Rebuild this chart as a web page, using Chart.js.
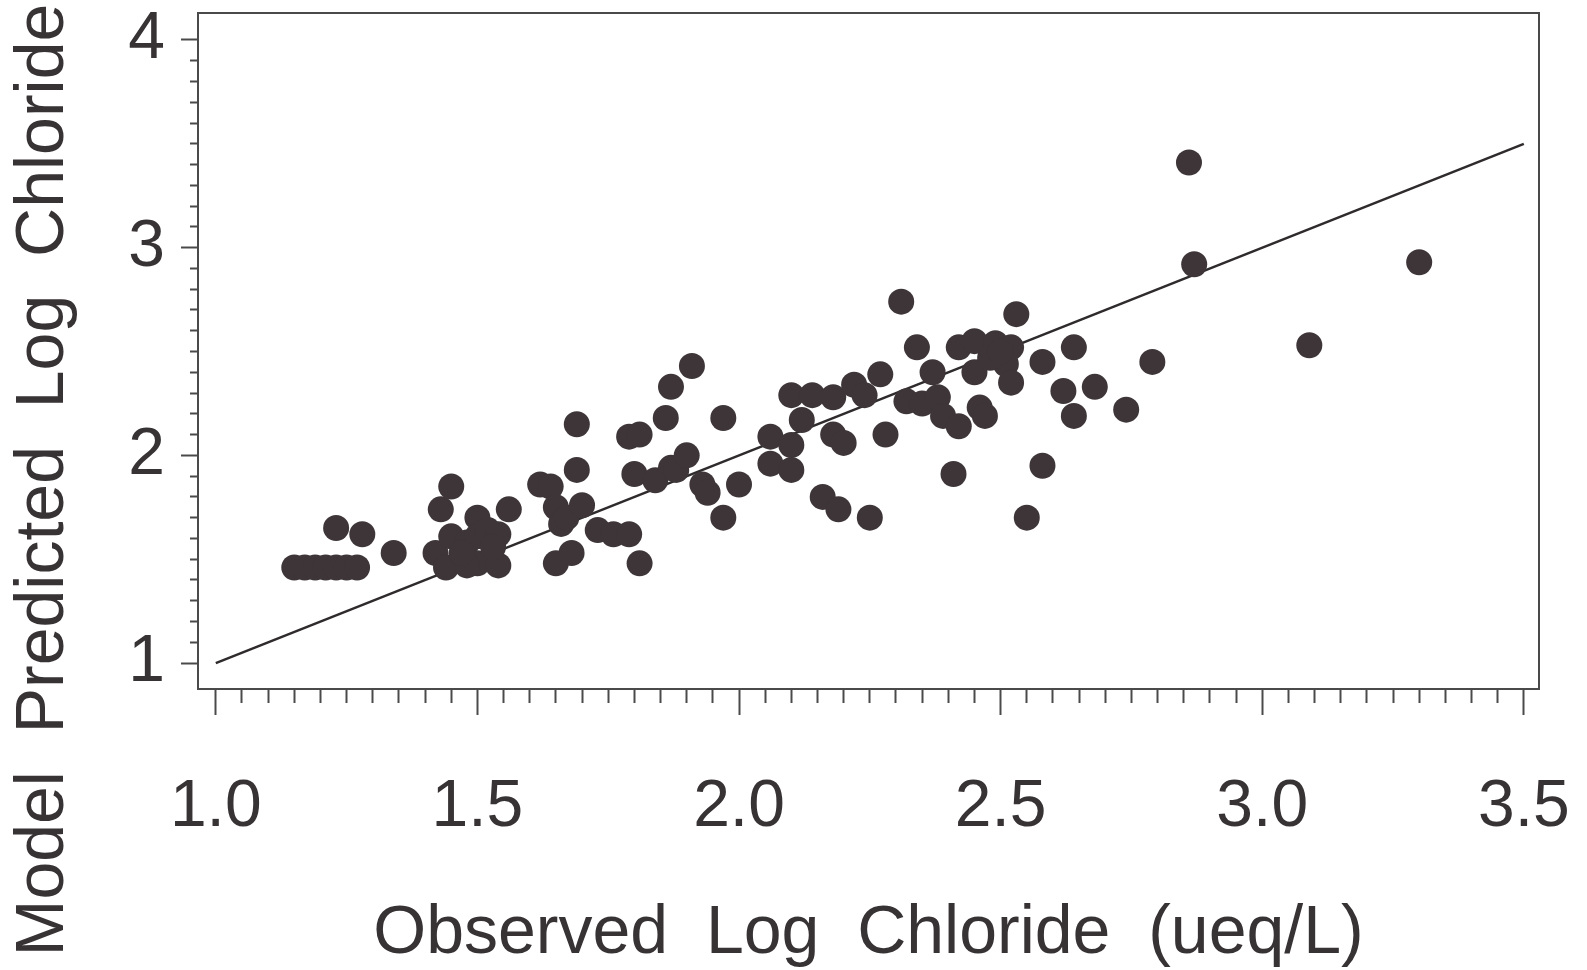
<!DOCTYPE html>
<html>
<head>
<meta charset="utf-8">
<script src="https://cdn.jsdelivr.net/npm/chart.js@4.4.1/dist/chart.umd.min.js"></script>
<style>
html, body { margin: 0; padding: 0; background: #fff; }
</style>
</head>
<body>
<canvas id="chlorideChart" width="1587" height="970"></canvas>
<script>
// observed vs model predicted log chloride
const observed = [
  1.15, 1.17, 1.19, 1.21, 1.23, 1.25, 1.27, 1.23, 1.28, 1.34,
  1.42, 1.43, 1.45, 1.44, 1.45, 1.48, 1.50, 1.50, 1.52, 1.54,
  1.50, 1.54, 1.56, 1.48, 1.47, 1.53, 1.62, 1.64, 1.65, 1.66,
  1.67, 1.70, 1.69, 1.69, 1.65, 1.68, 1.73, 1.76, 1.79, 1.81,
  1.79, 1.81, 1.80, 1.84, 1.86, 1.87, 1.91, 1.87, 1.88, 1.90,
  1.93, 1.94, 1.97, 2.00, 1.97, 2.06, 2.10, 2.06, 2.10, 2.12,
  2.10, 2.14, 2.18, 2.22, 2.24, 2.27, 2.18, 2.20, 2.28, 2.16,
  2.19, 2.25, 2.31, 2.34, 2.37, 2.32, 2.35, 2.38, 2.39, 2.42,
  2.46, 2.47, 2.41, 2.42, 2.45, 2.45, 2.49, 2.52, 2.51, 2.52,
  2.53, 2.48, 2.50, 2.58, 2.64, 2.62, 2.68, 2.64, 2.74, 2.79,
  2.58, 2.55, 2.86, 2.87, 3.09, 3.30
];
const predicted = [
  1.46, 1.46, 1.46, 1.46, 1.46, 1.46, 1.46, 1.65, 1.62, 1.53,
  1.53, 1.74, 1.85, 1.46, 1.61, 1.58, 1.70, 1.61, 1.64, 1.62,
  1.48, 1.47, 1.74, 1.47, 1.53, 1.56, 1.86, 1.85, 1.75, 1.67,
  1.70, 1.76, 1.93, 2.15, 1.48, 1.53, 1.64, 1.62, 1.62, 1.48,
  2.09, 2.10, 1.91, 1.88, 2.18, 2.33, 2.43, 1.94, 1.93, 2.00,
  1.86, 1.82, 1.70, 1.86, 2.18, 2.09, 2.05, 1.96, 1.93, 2.17,
  2.29, 2.29, 2.28, 2.34, 2.29, 2.39, 2.10, 2.06, 2.10, 1.80,
  1.74, 1.70, 2.74, 2.52, 2.40, 2.26, 2.25, 2.28, 2.19, 2.14,
  2.23, 2.19, 1.91, 2.52, 2.55, 2.40, 2.54, 2.52, 2.44, 2.35,
  2.68, 2.47, 2.50, 2.45, 2.52, 2.31, 2.33, 2.19, 2.22, 2.45,
  1.95, 1.70, 3.41, 2.92, 2.53, 2.93
];
const xTickLabels = ['1.0', '1.5', '2.0', '2.5', '3.0', '3.5'];
const yTickLabels = ['1', '2', '3', '4'];
const xMinorStep = 0.05;
const yMinorStep = 0.1;
const oneToOne = [1.0, 3.5];

const fontFamily = "'Liberation Sans', Arial, sans-serif";
const ink = '#373233';
const axisInk = '#4a4a4a';

function tickValues(labels, step) {
  const first = parseFloat(labels[0]);
  const last = parseFloat(labels[labels.length - 1]);
  const n = Math.round((last - first) / step);
  const out = [];
  for (let i = 0; i <= n; i++) out.push(Math.round((first + i * step) * 1000) / 1000);
  return out;
}
function labelFor(labels, v) {
  const hit = labels.find(l => Math.abs(parseFloat(l) - v) < 1e-6);
  return hit === undefined ? '' : hit;
}

const xTicks = tickValues(xTickLabels, xMinorStep);
const yTicks = tickValues(yTickLabels, yMinorStep);

const points = observed.map((x, i) => ({ x: x, y: predicted[i] }));
const linePts = oneToOne.map(v => ({ x: v, y: v }));

new Chart(document.getElementById('chlorideChart'), {
  type: 'scatter',
  data: {
    datasets: [
      {
        data: linePts,
        showLine: true,
        borderColor: '#2f2b2c',
        borderWidth: 2.5,
        pointRadius: 0,
        order: 2
      },
      {
        data: points,
        backgroundColor: '#3d3538',
        borderWidth: 0,
        pointRadius: 13,
        order: 1
      }
    ]
  },
  options: {
    responsive: false,
    animation: false,
    layout: { padding: { left: 0, top: 0, right: 0, bottom: 10 } },
    plugins: {
      legend: { display: false },
      tooltip: { enabled: false },
      title: {
        display: true,
        position: 'left',
        text: 'Model  Predicted  Log  Chloride',
        color: ink,
        font: { family: fontFamily, size: 68, weight: 'normal', lineHeight: 1.2 },
        padding: { top: 3, bottom: 3 }
      }
    },
    scales: {
      x: {
        type: 'linear',
        position: 'bottom',
        min: 0.966,
        max: 3.529,
        afterBuildTicks: s => { s.ticks = xTicks.map(v => ({ value: v })); },
        afterFit: s => { s.height = 271; s.paddingLeft = 0; s.paddingRight = 0; },
        grid: {
          drawOnChartArea: false,
          drawTicks: true,
          tickLength: 26,
          tickWidth: 2,
          tickColor: axisInk,
          tickBorderDash: c => labelFor(xTickLabels, c.tick.value) ? [] : [13, 40]
        },
        border: { display: true, color: axisInk, width: 2 },
        ticks: {
          autoSkip: false,
          maxRotation: 0,
          padding: 53,
          color: ink,
          font: { family: fontFamily, size: 66 },
          callback: v => labelFor(xTickLabels, v)
        },
        title: {
          display: true,
          text: 'Observed  Log  Chloride  (ueq/L)',
          color: ink,
          font: { family: fontFamily, size: 68, lineHeight: 0.765 },
          padding: 0
        }
      },
      y: {
        type: 'linear',
        position: 'left',
        min: 0.875,
        max: 4.13,
        afterBuildTicks: s => { s.ticks = yTicks.map(v => ({ value: v })); },
        afterFit: s => { s.width = 110.4; s.paddingTop = 0; s.paddingBottom = 0; },
        grid: {
          drawOnChartArea: false,
          drawTicks: true,
          tickLength: 17,
          tickWidth: 2,
          tickColor: axisInk,
          tickBorderDash: c => labelFor(yTickLabels, c.tick.value) ? [] : [0, 9, 7, 40]
        },
        border: { display: true, color: axisInk, width: 2 },
        ticks: {
          autoSkip: false,
          padding: 16,
          color: ink,
          font: { family: fontFamily, size: 66 },
          callback: v => labelFor(yTickLabels, v)
        }
      },
      xTop: {
        type: 'linear',
        position: 'top',
        afterFit: s => { s.height = 12; },
        ticks: { display: false },
        grid: { drawOnChartArea: false, drawTicks: false },
        border: { display: true, color: axisInk, width: 2 }
      },
      yRight: {
        type: 'linear',
        position: 'right',
        afterFit: s => { s.width = 48; },
        ticks: { display: false },
        grid: { drawOnChartArea: false, drawTicks: false },
        border: { display: true, color: axisInk, width: 2 }
      }
    }
  }
});
</script>
</body>
</html>
